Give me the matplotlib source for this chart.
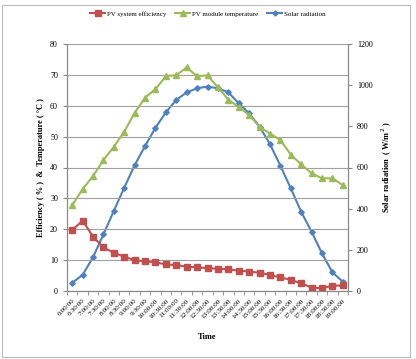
import matplotlib.pyplot as plt
from matplotlib.patches import Rectangle

times = ["6:00:00", "6:30:00", "7:00:00", "7:30:00", "8:00:00", "8:30:00", "9:00:00",
         "9:30:00", "10:00:00", "10:30:00", "11:00:00", "11:30:00", "12:00:00",
         "12:30:00", "13:00:00", "13:30:00", "14:00:00", "14:30:00", "15:00:00",
         "15:30:00", "16:00:00", "16:30:00", "17:00:00", "17:30:00", "18:00:00",
         "18:30:00", "19:00:00"]
efficiency = [19.7, 22.8, 17.6, 14.1, 12.4, 11.1, 10.0, 9.6, 9.3, 8.6, 8.4, 7.9, 7.7,
              7.4, 7.2, 7.0, 6.6, 6.3, 5.9, 5.2, 4.4, 3.6, 2.5, 1.1, 0.9, 1.7, 1.8]
temperature = [27.8, 33.0, 37.2, 42.4, 46.7, 51.6, 57.7, 62.6, 65.4, 69.6, 69.9, 72.4,
               69.6, 69.8, 66.0, 62.0, 59.6, 57.0, 53.2, 51.0, 48.9, 44.2, 41.0, 38.1,
               36.5, 36.5, 34.3]
radiation = [40, 78, 164, 275, 389, 502, 611, 704, 793, 868, 928, 965, 985, 993, 985,
             965, 912, 863, 798, 714, 609, 499, 385, 288, 183, 91, 45]

plt.rcParams["font.family"] = ["Liberation Serif", "DejaVu Serif"]

fig = plt.figure(figsize=(4.16, 3.59), dpi=100)
ax = fig.add_axes([67 / 416, 1 - 291 / 359, 281 / 416, 247 / 359])
ax2 = ax.twinx()

x = list(range(len(times)))
l1, = ax.plot(x, efficiency, color="#C0504D", marker="s", markersize=4.5, lw=1.5,
              label="PV system efficiency")
l2, = ax.plot(x, temperature, color="#9BBB59", marker="^", markersize=4.5, lw=1.5,
              label="PV module temperature")
l3, = ax2.plot(x, radiation, color="#4F81BD", marker="D", markersize=2.8, lw=1.5,
               label="Solar radiation")
ax.set_zorder(ax2.get_zorder() + 1)
ax.patch.set_visible(False)

ax.set_xlim(-0.5, len(times) - 0.5)
ax.set_ylim(0, 80)
ax2.set_ylim(0, 1200)
ax.set_yticks(range(0, 81, 10))
ax2.set_yticks(range(0, 1201, 200))
ax.grid(axis="y", color="#A0A0A0", lw=0.8)
ax.set_xticks(x)
ax.set_xticklabels(times, rotation=45, ha="right", rotation_mode="anchor", fontsize=5.2)
ax.set_xticks([i - 0.5 for i in range(len(times) + 1)], minor=True)
ax.tick_params(axis="x", which="major", length=0, pad=5)
ax.tick_params(axis="x", which="minor", length=3, color="#888888")
ax.tick_params(axis="y", length=3, labelsize=5.8, color="#888888")
ax2.tick_params(axis="y", length=3, labelsize=5.8, color="#888888")
for a in (ax, ax2):
    a.spines["top"].set_visible(False)
    for s in ("left", "right", "bottom"):
        a.spines[s].set_color("#888888")

ax.set_ylabel("Efficiency ( % )  &  Temperature ( °C )", fontsize=6, fontweight="bold", labelpad=4)
ax2.set_ylabel("Solar radiation  ( W/m$^2$ )", fontsize=6, fontweight="bold", labelpad=5)
ax.set_xlabel("Time", fontsize=6, fontweight="bold", labelpad=10)

fig.legend(handles=[l1, l2, l3], loc="center", bbox_to_anchor=(0.5, 1 - 14 / 359),
           ncol=3, frameon=False, fontsize=5, handlelength=2.2, columnspacing=1.2,
           handletextpad=0.3, markerscale=0.9)

fig.patches.append(Rectangle((2 / 416, 2 / 359), 408 / 416, 352 / 359, transform=fig.transFigure,
                             fill=False, edgecolor="#BBBBBB", lw=0.8))

fig.savefig("out.png", dpi=100)
